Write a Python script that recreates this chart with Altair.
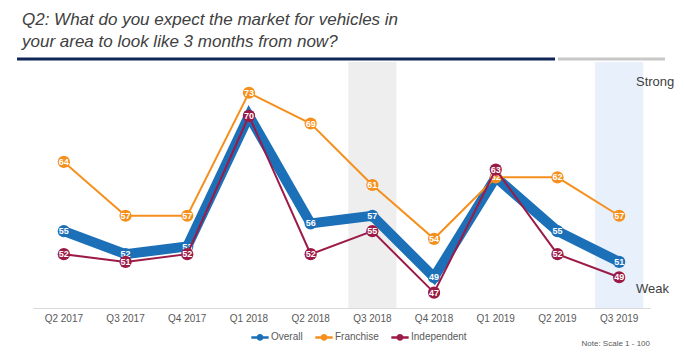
import altair as alt
import pandas as pd

quarters = ["Q2 2017", "Q3 2017", "Q4 2017", "Q1 2018", "Q2 2018",
            "Q3 2018", "Q4 2018", "Q1 2019", "Q2 2019", "Q3 2019"]
overall = [55, 52, 53, 70, 56, 57, 49, 62, 55, 51]
franchise = [64, 57, 57, 73, 69, 61, 54, 62, 62, 57]
independent = [52, 51, 52, 70, 52, 55, 47, 63, 52, 49]
series = ["Overall", "Franchise", "Independent"]
colors = ["#1c70b8", "#f5901e", "#9b1a46"]
line_widths = [10, 2, 2]
shaded_quarters = ["Q3 2018", "Q3 2019"]
shade_colors = ["#eeeeee", "#e8f0fb"]

title_lines = ["Q2: What do you expect the market for vehicles in",
               "your area to look like 3 months from now?"]

rows = []
for s, vals in zip(series, [overall, franchise, independent]):
    for q, v in zip(quarters, vals):
        rows.append({"quarter": q, "value": v, "series": s})
df = pd.DataFrame(rows)

FONT = "Liberation Sans"
W, H = 617, 246

xscale = alt.Scale(type="band", domain=quarters, paddingInner=0.22, paddingOuter=0.11)
yscale = alt.Scale(domain=[45, 77], nice=False, zero=False)
cscale = alt.Scale(domain=series, range=colors)

x_enc = alt.X("quarter:N", scale=xscale, sort=quarters,
              axis=alt.Axis(title=None, labelAngle=0, ticks=False, grid=False,
                            bandPosition=0.5, labelAlign="center",
                            domainColor="#d9d9d9", domainWidth=1,
                            labelColor="#595959", labelFontSize=10, labelFont=FONT,
                            labelPadding=10))
y_enc = alt.Y("value:Q", scale=yscale, axis=None)

layers = []
# shading
for q, c in zip(shaded_quarters, shade_colors):
    layers.append(
        alt.Chart(pd.DataFrame({"quarter": [q]})).mark_rect(color=c).encode(
            x=alt.X("quarter:N", scale=xscale, sort=quarters),
            y=alt.value(0), y2=alt.value(H))
    )

legend = alt.Legend(title=None, orient="none", legendX=217, legendY=265,
                    direction="horizontal", labelFont=FONT, labelFontSize=10,
                    labelColor="#595959",
                    symbolType="M-1,0L1,0M0.25,0A0.25,0.25,0,1,1,-0.25,0A0.25,0.25,0,1,1,0.25,0",
                    symbolSize=300, symbolStrokeWidth=2.5, columnPadding=7, labelOffset=1)

for i, (s, w) in enumerate(zip(series, line_widths)):
    base = alt.Chart(df).transform_filter(alt.datum.series == s)
    layers.append(
        base.mark_line(strokeWidth=w, point=alt.OverlayMarkDef(filled=True, size=150, opacity=1)).encode(
            x=x_enc, y=y_enc,
            color=alt.Color("series:N", scale=cscale, legend=legend))
    )
    layers.append(
        base.mark_text(color="white", fontSize=9, fontWeight="bold", font=FONT, baseline="middle").encode(
            x=x_enc, y=y_enc, text=alt.Text("value:Q"))
    )

one = pd.DataFrame({"k": [0]})
# title lines
for i, t in enumerate(title_lines):
    layers.append(alt.Chart(one).mark_text(text=t, align="left", baseline="alphabetic",
                                            font=FONT, fontSize=17, fontStyle="italic",
                                            color="#404040").encode(
        x=alt.value(-11), y=alt.value(-37 + 22 * i)))
# header rules
layers.append(alt.Chart(one).mark_rule(color="#0f2657", strokeWidth=3).encode(
    x=alt.value(-16), x2=alt.value(522), y=alt.value(-3)))
layers.append(alt.Chart(one).mark_rule(color="#c8c8c8", strokeWidth=3).encode(
    x=alt.value(525), x2=alt.value(632), y=alt.value(-3)))
# Strong / Weak
layers.append(alt.Chart(one).mark_text(text="Strong", align="left", baseline="middle",
                                        font=FONT, fontSize=13, color="#404040").encode(
    x=alt.value(603), y=alt.value(20)))
layers.append(alt.Chart(one).mark_text(text="Weak", align="left", baseline="middle",
                                        font=FONT, fontSize=13, color="#404040").encode(
    x=alt.value(603), y=alt.value(227)))
# note
layers.append(alt.Chart(one).mark_text(text="Note: Scale 1 - 100", align="right", baseline="middle",
                                        font=FONT, fontSize=8, color="#595959").encode(
    x=alt.value(617), y=alt.value(282)))

chart = alt.layer(*layers).properties(
    width=W, height=H, autosize="none",
    padding={"left": 25, "top": 54, "right": 26, "bottom": 40}
).configure_view(stroke=None)

chart.save("out.html", embed_options={"renderer": "svg", "actions": False})
